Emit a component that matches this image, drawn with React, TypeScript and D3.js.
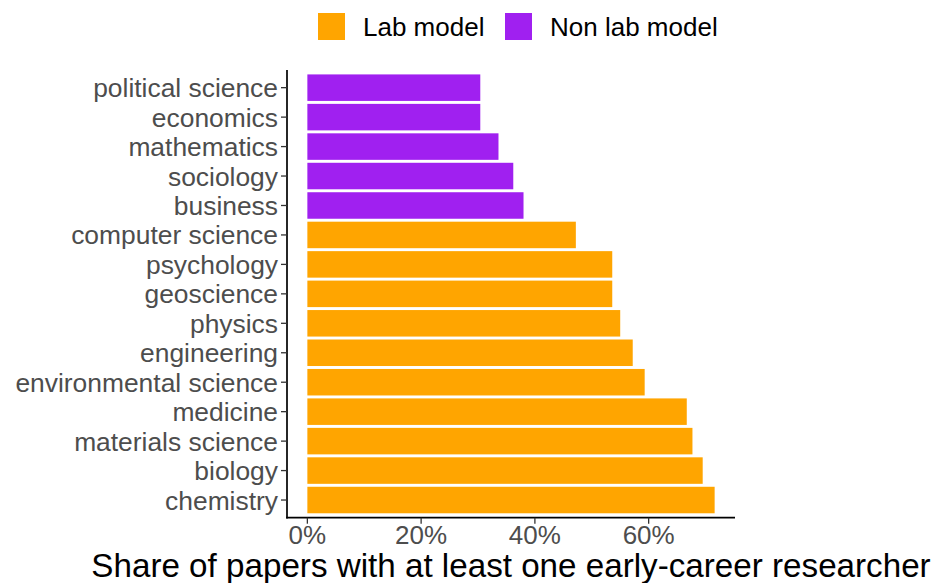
import React, { useRef, useEffect } from "react";
import * as d3 from "d3";

// fields top to bottom, share in %
const fields = [
  "political science", "economics", "mathematics", "sociology", "business",
  "computer science", "psychology", "geoscience", "physics", "engineering",
  "environmental science", "medicine", "materials science", "biology", "chemistry",
];
const shares = [30.4, 30.4, 33.6, 36.2, 38.0, 47.2, 53.6, 53.6, 55.0, 57.2, 59.3, 66.7, 67.7, 69.5, 71.6];
const models = [
  "Non lab model", "Non lab model", "Non lab model", "Non lab model", "Non lab model",
  "Lab model", "Lab model", "Lab model", "Lab model", "Lab model",
  "Lab model", "Lab model", "Lab model", "Lab model", "Lab model",
];
const legendKeys = ["Lab model", "Non lab model"];
const xTicks = [0, 20, 40, 60];
const colors: Record<string, string> = { "Lab model": "#FFA500", "Non lab model": "#A020F0" };

const W = 942, H = 583;
const FONT = "'Liberation Sans', Arial, Helvetica, sans-serif";

export default function App() {
  const ref = useRef<SVGSVGElement>(null);

  useEffect(() => {
    const svg = d3.select(ref.current);
    svg.selectAll("*").remove();

    const left = 287, right = 735, top = 70, bottom = 517.7;

    // ggplot-ish expansion: 5% on each side
    const maxV = d3.max(shares) as number;
    const pad = maxV * 0.05;
    const x = d3.scaleLinear().domain([-pad, maxV + pad]).range([left, right]);
    const y = d3.scaleBand<string>().domain(fields).range([top, bottom])
      .paddingInner(0.1).paddingOuter(0.15);

    // bars
    svg.append("g").selectAll("rect").data(fields).join("rect")
      .attr("x", x(0))
      .attr("y", (d) => y(d) as number)
      .attr("width", (d, i) => x(shares[i]) - x(0))
      .attr("height", y.bandwidth())
      .attr("fill", (d, i) => colors[models[i]]);

    // y axis
    const ya = svg.append("g");
    ya.append("line").attr("x1", left).attr("x2", left).attr("y1", top).attr("y2", bottom + 0.8)
      .attr("stroke", "#000").attr("stroke-width", 1.7);
    fields.forEach((f) => {
      const cy = (y(f) as number) + y.bandwidth() / 2;
      ya.append("line").attr("x1", left - 6).attr("x2", left).attr("y1", cy).attr("y2", cy)
        .attr("stroke", "#333").attr("stroke-width", 1.3);
      ya.append("text").attr("x", left - 9).attr("y", cy).attr("dy", "0.36em")
        .attr("text-anchor", "end").attr("fill", "#4d4d4d")
        .attr("font-size", 26.4).attr("font-family", FONT).text(f);
    });

    // x axis
    const xa = svg.append("g");
    xa.append("line").attr("x1", left - 0.8).attr("x2", right).attr("y1", bottom).attr("y2", bottom)
      .attr("stroke", "#000").attr("stroke-width", 1.7);
    xTicks.forEach((t) => {
      xa.append("line").attr("x1", x(t)).attr("x2", x(t)).attr("y1", bottom).attr("y2", bottom + 6)
        .attr("stroke", "#333").attr("stroke-width", 1.3);
      xa.append("text").attr("x", x(t)).attr("y", bottom + 26)
        .attr("text-anchor", "middle").attr("fill", "#4d4d4d")
        .attr("font-size", 26).attr("font-family", FONT).text(`${t}%`);
    });

    // axis title
    svg.append("text").attr("x", (left + right) / 2).attr("y", 577)
      .attr("text-anchor", "middle").attr("fill", "#000")
      .attr("font-size", 33.2).attr("font-family", FONT)
      .text("Share of papers with at least one early-career researcher");

    // legend
    const lg = svg.append("g");
    const keyX = [318, 505];
    legendKeys.forEach((k, i) => {
      lg.append("rect").attr("x", keyX[i]).attr("y", 13).attr("width", 27).attr("height", 27)
        .attr("fill", colors[k]);
      lg.append("text").attr("x", keyX[i] + 45).attr("y", 27).attr("dy", "0.36em")
        .attr("fill", "#000").attr("font-size", 26).attr("font-family", FONT).text(k);
    });
  }, []);

  return (
    <svg ref={ref} width={W} height={H}
      style={{ position: "absolute", left: 0, top: 0, background: "#fff" }} />
  );
}
